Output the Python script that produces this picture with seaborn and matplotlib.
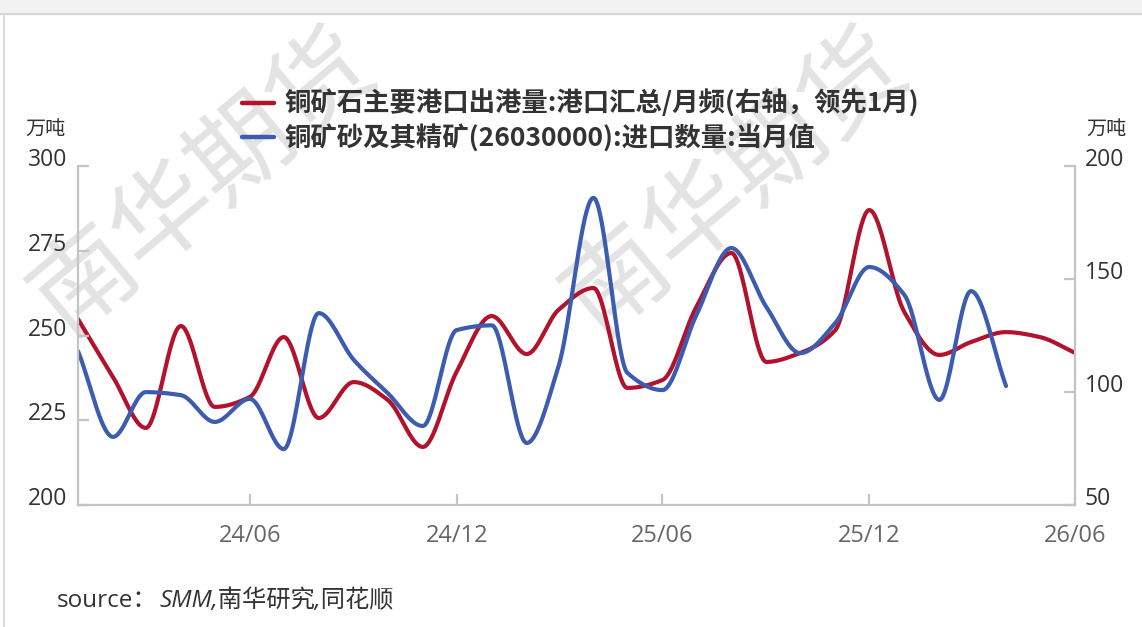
import numpy as np
import pandas as pd
import matplotlib
matplotlib.use("Agg")
import matplotlib.pyplot as plt
import matplotlib.dates as mdates
from matplotlib.lines import Line2D
from matplotlib.patches import Rectangle
import seaborn as sns

# ---- data ---------------------------------------------------------------
months = pd.date_range("2024-01-01", "2026-06-01", freq="MS")

# 铜矿石主要港口出港量 (right axis, shifted one month ahead), 万吨
port_outbound = [132.3, 106.6, 84.1, 129.2, 93.4, 97.8, 124.3, 88.5, 104.4, 96.5,
                 75.7, 109.0, 133.6, 116.8, 136.3, 146.0, 101.8, 105.3, 137.6, 161.5,
                 113.3, 117.3, 127.4, 180.5, 135.4, 116.4, 122.1, 126.5, 124.3, 117.3]

# 铜矿砂及其精矿进口数量 (left axis), 万吨
concentrate_import = [245.4, 220.1, 233.3, 232.4, 224.5, 231.3, 216.5, 256.6, 242.8, 233.0,
                      223.3, 251.6, 253.0, 218.3, 240.8, 290.6, 239.0, 233.9, 256.0, 275.8,
                      258.4, 244.8, 253.7, 270.2, 262.0, 231.0, 263.1, 235.1]

label_outbound = "铜矿石主要港口出港量:港口汇总/月频(右轴，领先1月)"
label_import = "铜矿砂及其精矿(26030000):进口数量:当月值"

left_ticks = [200, 225, 250, 275, 300]
right_ticks = [50, 100, 150, 200]
x_tick_dates = pd.to_datetime(["2024-06-01", "2024-12-01", "2025-06-01",
                               "2025-12-01", "2026-06-01"])

RED = "#b3122c"
BLUE = "#3d5cb0"
AXIS_GREY = "#c4c4c4"
TEXT_DARK = "#333333"
TEXT_GREY = "#666666"

CJK = ["Noto Sans CJK SC", "DejaVu Sans"]
NUM = ["Open Sans", "Noto Sans CJK SC", "DejaVu Sans"]


def monotone_smooth(dates, values, per_seg=40):
    """Shape-preserving cubic (Fritsch-Carlson) curve through monthly points."""
    x = mdates.date2num(pd.DatetimeIndex(dates).to_pydatetime())
    y = np.asarray(values, dtype=float)
    h = np.diff(x)
    delta = np.diff(y) / h
    n = len(x)
    d = np.zeros(n)
    for k in range(1, n - 1):
        if delta[k - 1] * delta[k] > 0:
            w1 = 2 * h[k] + h[k - 1]
            w2 = h[k] + 2 * h[k - 1]
            d[k] = (w1 + w2) / (w1 / delta[k - 1] + w2 / delta[k])
    d[0] = delta[0]
    d[-1] = delta[-1]
    xs, ys = [], []
    for k in range(n - 1):
        t = np.linspace(0, 1, per_seg, endpoint=(k == n - 2))
        h00 = 2 * t**3 - 3 * t**2 + 1
        h10 = t**3 - 2 * t**2 + t
        h01 = -2 * t**3 + 3 * t**2
        h11 = t**3 - t**2
        xs.append(x[k] + t * h[k])
        ys.append(h00 * y[k] + h10 * h[k] * d[k] + h01 * y[k + 1] + h11 * h[k] * d[k + 1])
    return pd.DataFrame({"date": mdates.num2date(np.concatenate(xs)),
                         "value": np.concatenate(ys)})


sns.set_theme(style="white")
plt.rcParams["font.family"] = NUM

W, H = 1142, 627
fig = plt.figure(figsize=(W / 100, H / 100), dpi=100)
fig.patch.set_facecolor("white")

# watermark
for cx, cy in [(204, 182), (736, 182)]:
    fig.text(cx / W, 1 - cy / H, "南华期货", rotation=40, ha="center", va="center",
             rotation_mode="anchor", fontsize=74, color="#e3e3e3",
             family=CJK, zorder=-3)

# page frame
fig.patches.append(Rectangle((0, 1 - 13 / H), 1, 13 / H, transform=fig.transFigure,
                             facecolor="#f2f2f2", edgecolor="none", zorder=-2))
fig.lines.append(Line2D([0, 1], [1 - 14 / H] * 2, transform=fig.transFigure,
                        color="#d6d6d6", lw=1.6, zorder=-2))
fig.lines.append(Line2D([4 / W] * 2, [0, 1], transform=fig.transFigure,
                        color="#d6d6d6", lw=1.2, zorder=-2))

ax = fig.add_axes([78 / W, 1 - 505 / H, (1075 - 78) / W, (505 - 166) / H])
ax.set_facecolor("none")
ax2 = ax.twinx()

imp = monotone_smooth(months[:len(concentrate_import)], concentrate_import)
out = monotone_smooth(months, port_outbound)
sns.lineplot(data=imp, x="date", y="value", ax=ax, color=BLUE, lw=3.0, legend=False)
sns.lineplot(data=out, x="date", y="value", ax=ax2, color=RED, lw=3.0, legend=False)
ax.set_zorder(2)
ax2.set_zorder(1)

ax.set_xlim(months[0], months[-1])
ax.set_ylim(200, 300)
ax2.set_ylim(50, 200)
for a in (ax, ax2):
    a.set_xlabel("")
    a.set_ylabel("")
    for s in a.spines.values():
        s.set_visible(False)

for s in ("left", "bottom", "right"):
    ax.spines[s].set_visible(True)
    ax.spines[s].set_color(AXIS_GREY)
    ax.spines[s].set_linewidth(1.6)

ax.set_yticks(left_ticks)
ax.set_yticklabels([str(v) for v in left_ticks])
ax2.set_yticks(right_ticks)
ax2.set_yticklabels([str(v) for v in right_ticks])
ax.set_xticks(x_tick_dates)
ax.set_xticklabels([d.strftime("%y/%m") for d in x_tick_dates])

ax.tick_params(axis="y", direction="in", length=8, width=1.6, color=AXIS_GREY,
               labelsize=16.5, labelcolor=TEXT_DARK, pad=8, left=True)
ax2.tick_params(axis="y", direction="in", length=8, width=1.6, color=AXIS_GREY,
                labelsize=16.5, labelcolor=TEXT_DARK, pad=7, right=True)
ax.tick_params(axis="x", direction="in", length=8, width=1.6, color=AXIS_GREY,
               labelsize=17, labelcolor=TEXT_GREY, pad=14, bottom=True)
for lab in ax.get_yticklabels() + ax2.get_yticklabels():
    lab.set_va("baseline")
    lab.set_y(lab.get_position()[1])

# units
fig.text(66 / W, 1 - 130 / H, "万吨", ha="right", va="center", fontsize=14.5,
         color=TEXT_DARK, family=CJK)
fig.text(1086 / W, 1 - 130 / H, "万吨", ha="left", va="center", fontsize=14.5,
         color=TEXT_DARK, family=CJK)

# legend
handles = [Line2D([], [], color=RED, lw=3.2), Line2D([], [], color=BLUE, lw=3.2)]
fig.legend(handles, [label_outbound, label_import], loc="upper left",
           bbox_to_anchor=(242 / W, 1 - 90 / H), frameon=False,
           handlelength=1.2, handletextpad=0.42, labelspacing=0.22,
           borderaxespad=0, borderpad=0,
           prop={"family": CJK, "weight": "bold", "size": 19},
           labelcolor=TEXT_DARK)

# source line
fig.canvas.draw()
src1 = fig.text(57 / W, 1 - 601 / H, "source：", ha="left", va="center",
                fontsize=17.5, color=TEXT_DARK, family=NUM)
renderer = fig.canvas.get_renderer()
bb = src1.get_window_extent(renderer)
fig.text((bb.x1 + 2) / W, 1 - 601 / H, "SMM,南华研究,同花顺", ha="left", va="center",
         fontsize=17.5, color=TEXT_DARK, style="italic", family=NUM)

fig.savefig("out.png", dpi=100, facecolor="white")
